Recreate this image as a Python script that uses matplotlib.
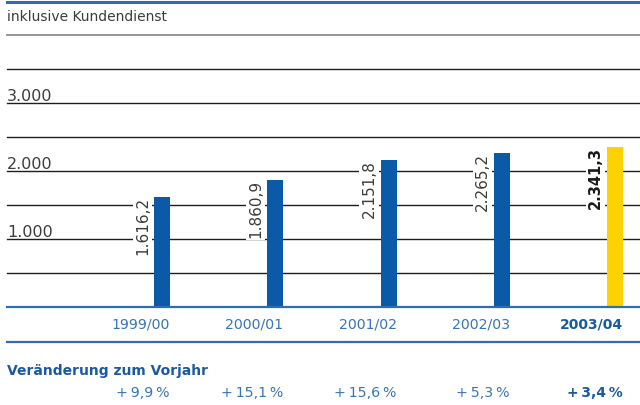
import numpy as np
import matplotlib
matplotlib.use('Agg')
import matplotlib.pyplot as plt
import matplotlib.transforms as mtransforms
from matplotlib.lines import Line2D

# Daten
jahre = ['1999/00', '2000/01', '2001/02', '2002/03', '2003/04']
werte = [1616.2, 1860.9, 2151.8, 2265.2, 2341.3]
veraenderung = [9.9, 15.1, 15.6, 5.3, 3.4]
ticks = [1000, 2000, 3000]
gitter = [500, 1000, 1500, 2000, 2500, 3000, 3500]


def de(x, nk=1):
    s = f'{x:,.{nk}f}'
    return s.replace(',', 'X').replace('.', ',').replace('X', '.')


plt.rcParams['font.family'] = ['DejaVu Sans']

W, H = 640, 405
blau = '#0a5aa8'
gelb = '#fdd200'
hellblau = '#3a74b8'
linienblau = '#2f6db3'
grau = '#3c3c3c'

fig = plt.figure(figsize=(W/100, H/100), dpi=100)
base_px = 306.7
top_px = 2.0
pxu = 0.068  # pixel pro einheit
ax = fig.add_axes([0, 1-base_px/H, 1, (base_px-top_px)/H])
ax.axis('off')

# x-Skala: Balkenmitten bei 162 px und 615 px
sx = (615-162)/4.0
x0 = -162/sx
x1 = x0 + W/sx
ax.set_xlim(x0, x1)
ax.set_ylim(0, (base_px-top_px)/pxu)
bw = 16/sx
xs = np.arange(len(jahre))

# Gitterlinien
for g in gitter:
    ax.axhline(g, xmin=7/W, xmax=1, color='#1e1e1e', lw=1.0, zorder=1)
ax.axhline(4000, xmin=7/W, xmax=1, color='#8c8c8c', lw=1.3, zorder=1)
ax.axhline((base_px-top_px)/pxu, xmin=7/W, xmax=1, color=linienblau, lw=2.2, clip_on=False)
ax.axhline(0, xmin=7/W, xmax=1, color=linienblau, lw=1.6, zorder=4, clip_on=False)

for t in ticks:
    ax.text(x0 + 7/sx, t + 2/pxu, de(t, 0), fontsize=11.5, color=grau,
            ha='left', va='baseline')

ax.text(x0 + 7/sx, (base_px-17.5)/pxu, 'inklusive Kundendienst', fontsize=10,
        color=grau, ha='left', va='center')

farben = [blau]*4 + [gelb]
ax.bar(xs, werte, width=bw, color=farben, zorder=3)

for i, v in enumerate(werte):
    fett = i == len(werte)-1
    ax.text(i - bw/2 - 4/sx, v, de(v), rotation=90, ha='right', va='top',
            fontsize=10.5 if fett else 11, color='#1a1a1a' if fett else grau,
            fontweight='bold' if fett else 'normal', zorder=5,
            bbox=dict(facecolor='white', edgecolor='none', pad=1.5))

# Beschriftung unten
tr = mtransforms.blended_transform_factory(ax.transData, fig.transFigure)
for i, j in enumerate(jahre):
    fett = i == len(jahre)-1
    fig.text(i + bw/2, 1-324.5/H, j, transform=tr, ha='right', va='center',
             fontsize=10 if fett else 10.2, color='#1a5aa0' if fett else hellblau,
             fontweight='bold' if fett else 'normal')

fig.add_artist(Line2D([7/W, 1], [1-341.7/H]*2, color=linienblau, lw=1.6))
fig.text(7/W, 1-370.5/H, 'Veränderung zum Vorjahr', ha='left', va='center',
         fontsize=10, color='#1a5aa0', fontweight='bold')

for i, p in enumerate(veraenderung):
    fett = i == len(veraenderung)-1
    fig.text(i + bw/2, 1-393/H, '+\u2009' + de(p) + '\u2009%', transform=tr,
             ha='right', va='center', fontsize=10 if fett else 10.2,
             color='#1a5aa0' if fett else hellblau,
             fontweight='bold' if fett else 'normal')

fig.savefig('out.png', dpi=100)
